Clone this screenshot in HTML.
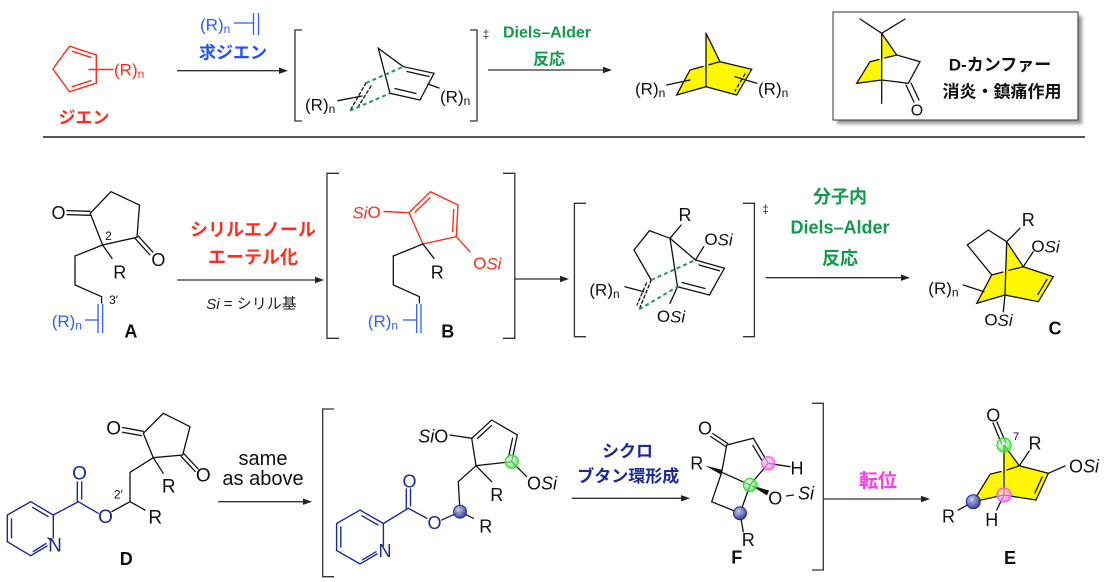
<!DOCTYPE html>
<html><head><meta charset="utf-8"><style>
html,body{margin:0;padding:0;background:#fff;}
svg{display:block;}
text{font-family:"Liberation Sans","Noto Sans CJK JP",sans-serif;}
</style></head><body>
<svg width="1108" height="582" viewBox="0 0 1108 582" xmlns="http://www.w3.org/2000/svg">
<defs>
<radialGradient id="gg" cx="40%" cy="35%" r="65%"><stop offset="0" stop-color="#d8ffd8" stop-opacity="0.6"/><stop offset="1" stop-color="#3ee03e" stop-opacity="0.75"/></radialGradient>
<radialGradient id="pg" cx="40%" cy="35%" r="65%"><stop offset="0" stop-color="#ffe0ff" stop-opacity="0.6"/><stop offset="1" stop-color="#ff66f5" stop-opacity="0.8"/></radialGradient>
<radialGradient id="bg" cx="40%" cy="35%" r="65%"><stop offset="0" stop-color="#c8cdf0" stop-opacity="0.9"/><stop offset="1" stop-color="#2a3596" stop-opacity="0.95"/></radialGradient>
<filter id="sh" x="-5%" y="-5%" width="110%" height="120%"><feGaussianBlur stdDeviation="1.5"/></filter>
</defs>

<!-- ================= TOP ROW ================= -->
<!-- red cyclopentadiene -->
<g stroke="#ff2d1a" stroke-width="1.4" fill="none" stroke-linecap="round">
<polygon points="69.5,46.2 96.3,54.9 96.3,83.1 69.5,91.8 52.9,69"/>
<line x1="72.3" y1="51.3" x2="91.1" y2="57.4"/>
<line x1="91.1" y1="80.6" x2="72.3" y2="86.7"/>
<line x1="89" y1="69.5" x2="113" y2="69.5"/>
</g>
<text x="114" y="70" dominant-baseline="central" font-size="17" fill="#ff2d1a">(R)<tspan font-size="12" dy="4">n</tspan></text>
<text x="84" y="118" text-anchor="middle" dominant-baseline="central" font-size="17" font-weight="bold" fill="#ff2d1a">ジエン</text>

<!-- dienophile label -->
<text x="200" y="25" dominant-baseline="central" font-size="17" fill="#2a5cff">(R)<tspan font-size="12" dy="4">n</tspan></text>
<g stroke="#2a5cff" stroke-width="1.3">
<line x1="234" y1="23" x2="253" y2="23"/>
<line x1="253.5" y1="13" x2="253.5" y2="35"/>
<line x1="258.5" y1="13" x2="258.5" y2="35"/>
</g>
<text x="233" y="53" text-anchor="middle" dominant-baseline="central" font-size="17" font-weight="bold" fill="#1f4fff">求ジエン</text>

<!-- arrow 1 -->
<line x1="177" y1="70.7" x2="280" y2="70.7" stroke="#333" stroke-width="1.3"/>
<polygon points="288,70.7 279,67.5 279,73.9" fill="#222"/>

<!-- TS1 brackets -->
<g stroke="#333" stroke-width="1.3" fill="none">
<polyline points="302,30 295,30 295,121 302,121"/>
<polyline points="470,30 477,30 477,121 470,121"/>
</g>
<text x="486" y="34" text-anchor="middle" dominant-baseline="central" font-size="12" fill="#333">‡</text>

<!-- TS1 structure -->
<g stroke="#111" stroke-width="1.3" fill="none" stroke-linecap="round">
<polygon points="378.3,48.3 403.3,66.7 434,73.3 420,100 390,93.3"/>
<line x1="407" y1="71.5" x2="429" y2="76.5"/>
<line x1="395" y1="88.5" x2="416" y2="93.5"/>
<line x1="428" y1="84" x2="439" y2="88"/>
<line x1="338" y1="100.7" x2="362" y2="96"/>
<line x1="366" y1="83" x2="350" y2="110.7" stroke-dasharray="3,2.5"/>
<line x1="371" y1="86" x2="358" y2="107" stroke-dasharray="3,2.5"/>
</g>
<g stroke="#1f9e4f" stroke-width="2" stroke-dasharray="4,3" fill="none">
<line x1="366" y1="83" x2="403.3" y2="66.7"/>
<line x1="350" y1="110.7" x2="390" y2="93.3"/>
</g>
<text x="440" y="97" dominant-baseline="central" font-size="17" fill="#111">(R)<tspan font-size="12" dy="4">n</tspan></text>
<text x="305" y="105" dominant-baseline="central" font-size="17" fill="#111">(R)<tspan font-size="12" dy="4">n</tspan></text>

<!-- Diels-Alder label and arrow -->
<text x="547" y="33" text-anchor="middle" dominant-baseline="central" font-size="16" font-weight="bold" fill="#12994a">Diels–Alder</text>
<text x="549" y="60" text-anchor="middle" dominant-baseline="central" font-size="16" font-weight="bold" fill="#12994a">反応</text>
<line x1="488" y1="70" x2="604" y2="70" stroke="#333" stroke-width="1.3"/>
<polygon points="612,70 603,66.8 603,73.2" fill="#222"/>

<!-- norbornene -->
<polygon points="706,33.3 720,61.7 751.7,69.3 736.7,95 706,86.7 676.7,95 690,70 706,66" fill="#fff700"/>
<g stroke="#111" stroke-width="1.3" fill="none" stroke-linecap="round">
<line x1="706" y1="33.3" x2="720" y2="61.7"/>
<line x1="706" y1="33.3" x2="706" y2="86.7"/>
<polyline points="720,61.7 751.7,69.3 736.7,95 706,86.7 676.7,95 690,70 703,66.4"/>
<line x1="709" y1="64.8" x2="720" y2="61.7"/>
<line x1="745" y1="74" x2="735" y2="91" stroke-dasharray="3,3"/>
<line x1="666.7" y1="85" x2="690" y2="80"/>
<line x1="735" y1="76.7" x2="756.7" y2="83.3"/>
</g>
<text x="635" y="89" dominant-baseline="central" font-size="17" fill="#111">(R)<tspan font-size="12" dy="4">n</tspan></text>
<text x="758" y="89" dominant-baseline="central" font-size="17" fill="#111">(R)<tspan font-size="12" dy="4">n</tspan></text>

<!-- camphor box -->
<rect x="837" y="16" width="245" height="108" fill="#999" filter="url(#sh)"/>
<rect x="833" y="12" width="245" height="108" fill="#fff" stroke="#333" stroke-width="1"/>
<polygon points="881.7,33.3 896.7,55 881.7,58.6 870,61.7 856.7,83.3 881.7,80" fill="#fff700"/>
<g stroke="#111" stroke-width="1.3" fill="none" stroke-linecap="round">
<line x1="860" y1="19" x2="881.7" y2="33.3"/>
<line x1="905" y1="19" x2="881.7" y2="33.3"/>
<line x1="881.7" y1="33.3" x2="881.7" y2="103.3"/>
<polyline points="881.7,33.3 896.7,55 920,61.7 908.3,83.3 881.7,80 856.7,83.3 870,61.7 879,59.5"/>
<line x1="884.5" y1="58" x2="896.7" y2="55"/>
<line x1="906" y1="85" x2="914" y2="102"/>
<line x1="911" y1="83" x2="919" y2="100"/>
</g>
<text x="917" y="111" text-anchor="middle" dominant-baseline="central" font-size="16" fill="#111">O</text>
<text x="1000" y="65" text-anchor="middle" dominant-baseline="central" font-size="17" font-weight="bold" fill="#111">D-カンファー</text>
<text x="1002" y="92" text-anchor="middle" dominant-baseline="central" font-size="17" font-weight="bold" fill="#111">消炎・鎮痛作用</text>

<!-- separator -->
<line x1="43" y1="137" x2="1085" y2="137" stroke="#555" stroke-width="2"/>

<!-- ================= ROW 2 ================= -->
<!-- compound A -->
<g stroke="#111" stroke-width="1.3" fill="none" stroke-linecap="round">
<polygon points="90.2,213.3 110.9,191.7 139.5,205 137,237.3 102.6,245"/>
<line x1="90" y1="211.3" x2="67" y2="210.6"/>
<line x1="90" y1="215.3" x2="67" y2="214.6"/>
<line x1="138.3" y1="236.1" x2="152.8" y2="252.1"/>
<line x1="135.4" y1="238.8" x2="149.9" y2="254.8"/>
<line x1="102.6" y1="245" x2="112" y2="258.3"/>
<polyline points="102.6,245 75,256 75,285 101.6,296.7 101.6,303"/>
</g>
<text x="58.5" y="213" text-anchor="middle" dominant-baseline="central" font-size="18" fill="#111">O</text>
<text x="158.4" y="260" text-anchor="middle" dominant-baseline="central" font-size="18" fill="#111">O</text>
<text x="119.8" y="272.7" text-anchor="middle" dominant-baseline="central" font-size="18" fill="#111">R</text>
<text x="108.5" y="236" text-anchor="middle" dominant-baseline="central" font-size="12" fill="#111">2</text>
<text x="113.6" y="300" text-anchor="middle" dominant-baseline="central" font-size="12" fill="#111">3′</text>
<g stroke="#2f5ff5" stroke-width="1.3">
<line x1="98" y1="304" x2="98" y2="333"/>
<line x1="102.6" y1="304" x2="102.6" y2="333"/>
<line x1="85" y1="320" x2="98" y2="320"/>
</g>
<text x="51.7" y="321.7" dominant-baseline="central" font-size="17" fill="#2f5ff5">(R)<tspan font-size="12" dy="4">n</tspan></text>
<text x="130.9" y="331.7" text-anchor="middle" dominant-baseline="central" font-size="18" font-weight="bold" fill="#111">A</text>

<!-- arrow A->B -->
<line x1="177.3" y1="280" x2="316" y2="280" stroke="#333" stroke-width="1.3"/>
<polygon points="324,280 315,276.8 315,283.2" fill="#222"/>
<text x="253" y="230" text-anchor="middle" dominant-baseline="central" font-size="18" font-weight="bold" fill="#ff2d1a">シリルエノール</text>
<text x="253" y="257.3" text-anchor="middle" dominant-baseline="central" font-size="18" font-weight="bold" fill="#ff2d1a">エーテル化</text>
<text x="251.5" y="304" text-anchor="middle" dominant-baseline="central" font-size="15" fill="#222"><tspan font-style="italic">Si</tspan> = シリル基</text>

<!-- bracket B -->
<g stroke="#333" stroke-width="1.3" fill="none">
<polyline points="339,173.3 327,173.3 327,338.3 339,338.3"/>
<polyline points="503,173.3 514.8,173.3 514.8,338.3 503,338.3"/>
</g>

<!-- compound B -->
<g stroke="#ff2d1a" stroke-width="1.4" fill="none" stroke-linecap="round">
<polygon points="409,212.7 430.4,191.7 458,205 456.3,236.7 422.9,244"/>
<line x1="415" y1="212.4" x2="430" y2="197.7"/>
<line x1="453.7" y1="209.6" x2="452.6" y2="231.7"/>
<line x1="384" y1="211.5" x2="409" y2="212.7"/>
<line x1="456.3" y1="236.7" x2="470" y2="251.7"/>
</g>
<text x="366.5" y="212.7" text-anchor="middle" dominant-baseline="central" font-size="17" fill="#ff2d1a"><tspan font-style="italic">Si</tspan>O</text>
<text x="487.3" y="263.3" text-anchor="middle" dominant-baseline="central" font-size="17" fill="#ff2d1a">O<tspan font-style="italic">Si</tspan></text>
<g stroke="#111" stroke-width="1.3" fill="none" stroke-linecap="round">
<line x1="422.9" y1="244" x2="433.9" y2="258.3"/>
<polyline points="422.9,244 393.3,256 393.3,285 419.4,296.7 419.4,303"/>
</g>
<text x="437.3" y="272.7" text-anchor="middle" dominant-baseline="central" font-size="18" fill="#111">R</text>
<g stroke="#2f5ff5" stroke-width="1.3">
<line x1="416.7" y1="304" x2="416.7" y2="333"/>
<line x1="421" y1="304" x2="421" y2="333"/>
<line x1="403" y1="320" x2="416.7" y2="320"/>
</g>
<text x="367.8" y="321.7" dominant-baseline="central" font-size="17" fill="#2f5ff5">(R)<tspan font-size="12" dy="4">n</tspan></text>
<text x="447.7" y="331.7" text-anchor="middle" dominant-baseline="central" font-size="18" font-weight="bold" fill="#111">B</text>

<!-- arrow B->TS2 -->
<line x1="515" y1="279" x2="561" y2="279" stroke="#333" stroke-width="1.3"/>
<polygon points="569,279 560,275.8 560,282.2" fill="#222"/>

<!-- TS2 brackets -->
<g stroke="#333" stroke-width="1.3" fill="none">
<polyline points="586,203.3 574.4,203.3 574.4,336.7 586,336.7"/>
<polyline points="743,203.3 754.4,203.3 754.4,336.7 743,336.7"/>
</g>
<text x="765.6" y="209" text-anchor="middle" dominant-baseline="central" font-size="12" fill="#333">‡</text>

<!-- TS2 structure -->
<g stroke="#111" stroke-width="1.3" fill="none" stroke-linecap="round">
<line x1="670" y1="238.3" x2="681.2" y2="225"/>
<polyline points="670,238.3 649.4,230.7 634,250 651.2,280"/>
<line x1="670" y1="238.3" x2="695.5" y2="260"/>
<line x1="695.5" y1="260" x2="703.7" y2="246.7"/>
<polyline points="695.5,260 724.4,268.3 709.4,295 677.5,286.7"/>
<line x1="699" y1="265" x2="719.5" y2="270.8"/>
<line x1="682" y1="282.5" x2="705" y2="288.5"/>
<line x1="670" y1="238.3" x2="677.5" y2="286.7"/>
<line x1="677.5" y1="286.7" x2="670" y2="303.3"/>
<line x1="625" y1="286.7" x2="643.7" y2="291.7"/>
<line x1="651.2" y1="280" x2="639.2" y2="309.3" stroke-dasharray="3,2.5"/>
<line x1="646.5" y1="283" x2="637" y2="305" stroke-dasharray="3,2.5"/>
</g>
<g stroke="#1f9e4f" stroke-width="2" stroke-dasharray="4,3" fill="none">
<line x1="651.2" y1="280" x2="695.5" y2="260"/>
<line x1="639.2" y1="309.3" x2="677.5" y2="286.7"/>
</g>
<text x="685" y="215" text-anchor="middle" dominant-baseline="central" font-size="18" fill="#111">R</text>
<text x="718.5" y="239.3" text-anchor="middle" dominant-baseline="central" font-size="17" fill="#111">O<tspan font-style="italic">Si</tspan></text>
<text x="671" y="316.7" text-anchor="middle" dominant-baseline="central" font-size="17" fill="#111">O<tspan font-style="italic">Si</tspan></text>
<text x="589.4" y="290" dominant-baseline="central" font-size="17" fill="#111">(R)<tspan font-size="12" dy="4">n</tspan></text>

<!-- intramolecular DA label -->
<text x="840" y="197" text-anchor="middle" dominant-baseline="central" font-size="18" font-weight="bold" fill="#12994a">分子内</text>
<text x="840" y="227.5" text-anchor="middle" dominant-baseline="central" font-size="18" font-weight="bold" fill="#12994a">Diels–Alder</text>
<text x="840" y="258.5" text-anchor="middle" dominant-baseline="central" font-size="18" font-weight="bold" fill="#12994a">反応</text>
<line x1="765.6" y1="277.7" x2="902" y2="277.7" stroke="#333" stroke-width="1.3"/>
<polygon points="910,277.7 901,274.5 901,280.9" fill="#222"/>

<!-- compound C -->
<polygon points="1006.7,241.7 1023.3,266.7 1053.3,276.7 1038.3,301.7 1005,295 976.7,303.3 991.7,275 1006.2,271.2" fill="#fff700"/>
<g stroke="#111" stroke-width="1.3" fill="none" stroke-linecap="round">
<line x1="1006.7" y1="241.7" x2="1020" y2="228.3"/>
<polyline points="1006.7,241.7 988.3,230 967.3,245 991.7,275 976.7,303.3 1005,295"/>
<line x1="991.7" y1="275" x2="1003" y2="272"/>
<line x1="1009" y1="270.3" x2="1023.3" y2="266.7"/>
<line x1="1006.7" y1="241.7" x2="1023.3" y2="266.7"/>
<line x1="1006.7" y1="241.7" x2="1005" y2="295"/>
<polyline points="1023.3,266.7 1053.3,276.7 1038.3,301.7 1005,295"/>
<line x1="1046.9" y1="279.6" x2="1037.9" y2="294.6"/>
<line x1="1023.3" y1="266.7" x2="1033.3" y2="251.7"/>
<line x1="1005" y1="295" x2="1003.3" y2="311.7"/>
<line x1="963.3" y1="285" x2="984" y2="291.7"/>
</g>
<text x="1028.3" y="220" text-anchor="middle" dominant-baseline="central" font-size="18" fill="#111">R</text>
<text x="1045.5" y="246.7" text-anchor="middle" dominant-baseline="central" font-size="17" fill="#111">O<tspan font-style="italic">Si</tspan></text>
<text x="998.5" y="320" text-anchor="middle" dominant-baseline="central" font-size="17" fill="#111">O<tspan font-style="italic">Si</tspan></text>
<text x="928.3" y="288.3" dominant-baseline="central" font-size="17" fill="#111">(R)<tspan font-size="12" dy="4">n</tspan></text>
<text x="1055" y="328.3" text-anchor="middle" dominant-baseline="central" font-size="18" font-weight="bold" fill="#111">C</text>

<!-- ================= ROW 3 ================= -->
<!-- compound D : pyridine ester -->
<g stroke="#1a2a96" stroke-width="1.4" fill="none" stroke-linecap="round">
<polyline points="48,538 53.3,541.7"/>
<polyline points="53.3,538 53.3,515 30.7,501.7 7.3,515 7.3,541.7 30.7,555.7 47,546"/>
<line x1="11.5" y1="519" x2="11.5" y2="538"/>
<line x1="32.7" y1="507.5" x2="48" y2="516.5"/>
<line x1="33.3" y1="551.5" x2="46" y2="543.5"/>
<line x1="53.3" y1="515" x2="78.3" y2="501.7"/>
<line x1="77.3" y1="501.7" x2="77.3" y2="482"/>
<line x1="81.7" y1="499" x2="81.7" y2="482"/>
<line x1="78.3" y1="501.7" x2="98.3" y2="513.3"/>
</g>
<text x="55" y="546" text-anchor="middle" dominant-baseline="central" font-size="19" fill="#1a2a96">N</text>
<text x="79.5" y="474" text-anchor="middle" dominant-baseline="central" font-size="19" fill="#1a2a96">O</text>
<text x="105.5" y="517.7" text-anchor="middle" dominant-baseline="central" font-size="19" fill="#1a2a96">O</text>
<g stroke="#111" stroke-width="1.3" fill="none" stroke-linecap="round">
<line x1="112" y1="511.5" x2="130" y2="501.7"/>
<line x1="130" y1="501.7" x2="145" y2="510"/>
<polyline points="130,501.7 130,472.3 153.3,457.7"/>
<polygon points="153.3,457.7 143.3,433.3 163.3,413.3 190,426.7 182.7,455"/>
<line x1="122.7" y1="427.5" x2="143.3" y2="431.3"/>
<line x1="122.7" y1="432.3" x2="141.5" y2="435.6"/>
<line x1="184" y1="453.8" x2="198" y2="468.8"/>
<line x1="181.2" y1="456.4" x2="195.2" y2="471.4"/>
<line x1="153.3" y1="457.7" x2="163.3" y2="473.3"/>
</g>
<text x="118.3" y="494.3" text-anchor="middle" dominant-baseline="central" font-size="12" fill="#111">2′</text>
<text x="155.3" y="518" text-anchor="middle" dominant-baseline="central" font-size="19" fill="#111">R</text>
<text x="113.7" y="429" text-anchor="middle" dominant-baseline="central" font-size="19" fill="#111">O</text>
<text x="203.3" y="476" text-anchor="middle" dominant-baseline="central" font-size="19" fill="#111">O</text>
<text x="168.7" y="487" text-anchor="middle" dominant-baseline="central" font-size="19" fill="#111">R</text>
<text x="126.3" y="559" text-anchor="middle" dominant-baseline="central" font-size="18" font-weight="bold" fill="#111">D</text>

<!-- same as above -->
<text x="263" y="465" text-anchor="middle" font-size="20" fill="#111">same</text>
<text x="263" y="485" text-anchor="middle" font-size="20" fill="#111">as above</text>
<line x1="218.3" y1="501.7" x2="304" y2="501.7" stroke="#333" stroke-width="1.3"/>
<polygon points="312,501.7 303,498.5 303,504.9" fill="#222"/>

<!-- big bracket row 3 -->
<g stroke="#333" stroke-width="1.3" fill="none">
<polyline points="334,409 322.7,409 322.7,576.7 334,576.7"/>
<polyline points="812,403.3 823.3,403.3 823.3,570 812,570"/>
</g>

<!-- intermediate silyl dienol ether -->
<g stroke="#111" stroke-width="1.3" fill="none" stroke-linecap="round">
<polygon points="471.7,438.3 491.7,420 517.3,435 511.7,461.7 476,465.7"/>
<line x1="477.4" y1="438.5" x2="491.4" y2="425.7"/>
<line x1="512.6" y1="438.2" x2="508.6" y2="456.9"/>
<line x1="450" y1="435" x2="471.7" y2="438.3"/>
<line x1="511.7" y1="461.7" x2="526.7" y2="476.7"/>
<line x1="476" y1="465.7" x2="491.7" y2="481.7"/>
<polyline points="476,465.7 458.3,481.7 460,511.7"/>
<line x1="460" y1="511.7" x2="473.3" y2="518.3"/>
</g>
<text x="433.3" y="436.7" text-anchor="middle" dominant-baseline="central" font-size="18" fill="#111"><tspan font-style="italic">Si</tspan>O</text>
<text x="542" y="483.3" text-anchor="middle" dominant-baseline="central" font-size="18" fill="#111">O<tspan font-style="italic">Si</tspan></text>
<text x="496.7" y="495" text-anchor="middle" dominant-baseline="central" font-size="18" fill="#111">R</text>
<text x="485.8" y="526.7" text-anchor="middle" dominant-baseline="central" font-size="18" fill="#111">R</text>
<g stroke="#1a2a96" stroke-width="1.4" fill="none" stroke-linecap="round">
<line x1="460" y1="511.7" x2="441.7" y2="520"/>
<line x1="426.7" y1="518.3" x2="408.3" y2="508.3"/>
<line x1="406.3" y1="508.3" x2="406.3" y2="489"/>
<line x1="410.5" y1="506" x2="410.5" y2="489"/>
<line x1="408.3" y1="508.3" x2="383.4" y2="523.5"/>
<polyline points="383.4,546 383.4,523.5 360,510 336.6,523.5 336.6,550.5 360,564 377,554"/>
<line x1="340.8" y1="527" x2="340.8" y2="547"/>
<line x1="362" y1="515.8" x2="378" y2="525"/>
<line x1="362.5" y1="559.8" x2="376" y2="551.8"/>
</g>
<text x="385" y="551" text-anchor="middle" dominant-baseline="central" font-size="18" fill="#1a2a96">N</text>
<text x="409.5" y="481.3" text-anchor="middle" dominant-baseline="central" font-size="18" fill="#1a2a96">O</text>
<text x="434.5" y="523" text-anchor="middle" dominant-baseline="central" font-size="18" fill="#1a2a96">O</text>
<circle cx="511.7" cy="461.7" r="6.5" fill="url(#gg)" stroke="#2ee52e" stroke-width="1.3"/>
<circle cx="460" cy="511.7" r="6.5" fill="url(#bg)" stroke="#1a2a96" stroke-width="1"/>

<!-- cyclobutane label -->
<text x="627.5" y="451.7" text-anchor="middle" dominant-baseline="central" font-size="17" font-weight="bold" fill="#1a2a96">シクロ</text>
<text x="628.3" y="476.7" text-anchor="middle" dominant-baseline="central" font-size="17" font-weight="bold" fill="#1a2a96">ブタン環形成</text>
<line x1="571.7" y1="498.3" x2="682" y2="498.3" stroke="#333" stroke-width="1.3"/>
<polygon points="690,498.3 681,495.1 681,501.5" fill="#222"/>

<!-- compound F -->
<g stroke="#111" stroke-width="1.3" fill="none" stroke-linecap="round">
<line x1="727.7" y1="443.5" x2="712.7" y2="433.5"/>
<line x1="725.7" y1="446.5" x2="710.7" y2="436.5"/>
<polyline points="721.7,472.3 726.7,445 753.3,438.3 768.3,463.3 750,485 721.7,472.3"/>
<line x1="752.9" y1="445.4" x2="761.9" y2="460.4"/>
<polyline points="721.7,472.3 711.7,501.7 740,513.3 750,485"/>
<line x1="768.3" y1="463.3" x2="790" y2="466.7"/>
<line x1="740" y1="513.3" x2="743.3" y2="531.7"/>
<line x1="786.5" y1="496" x2="793.5" y2="495"/>
</g>
<polygon points="705,465.5 722.5,470 720.9,474.5" fill="#111"/>
<polygon points="750,485 769,490.5 767,495.5" fill="#111"/>
<circle cx="768.3" cy="463.3" r="6.5" fill="url(#pg)" stroke="#ff55f0" stroke-width="1.3"/>
<circle cx="750" cy="485" r="6.5" fill="url(#gg)" stroke="#2ee52e" stroke-width="1.3"/>
<circle cx="740" cy="513.3" r="6.5" fill="url(#bg)" stroke="#1a2a96" stroke-width="1"/>
<text x="705" y="428.3" text-anchor="middle" dominant-baseline="central" font-size="18" fill="#111">O</text>
<text x="696.7" y="463.3" text-anchor="middle" dominant-baseline="central" font-size="18" fill="#111">R</text>
<text x="797" y="468.3" text-anchor="middle" dominant-baseline="central" font-size="18" fill="#111">H</text>
<text x="775.3" y="498.3" text-anchor="middle" dominant-baseline="central" font-size="18" fill="#111">O</text>
<text x="806" y="493.3" text-anchor="middle" dominant-baseline="central" font-size="18" font-style="italic" fill="#111">Si</text>
<text x="748.3" y="540" text-anchor="middle" dominant-baseline="central" font-size="18" fill="#111">R</text>
<text x="736.7" y="557.5" text-anchor="middle" dominant-baseline="central" font-size="18" font-weight="bold" fill="#111">F</text>

<!-- rearrangement -->
<text x="878" y="481.7" text-anchor="middle" dominant-baseline="central" font-size="19" font-weight="bold" fill="#ff3cf0">転位</text>
<line x1="823.3" y1="499" x2="922" y2="499" stroke="#333" stroke-width="1.3"/>
<polygon points="930,499 921,495.8 921,502.2" fill="#222"/>

<!-- compound E -->
<polygon points="1004,445 1019.3,465.7 1048.3,473.3 1036,500 1004,495 973.3,501.7 990,474.3 1004,471" fill="#fff700"/>
<g stroke="#111" stroke-width="1.3" fill="none" stroke-linecap="round">
<line x1="1001.7" y1="444" x2="993" y2="423"/>
<line x1="1005.7" y1="442.5" x2="997" y2="422"/>
<line x1="1004" y1="445" x2="1019.3" y2="465.7"/>
<line x1="1004" y1="445" x2="1004" y2="495"/>
<line x1="1019.3" y1="465.7" x2="1029.3" y2="451"/>
<polyline points="1019.3,465.7 1048.3,473.3 1036,500 1004,495 973.3,501.7 990,474.3 1001,471.5"/>
<line x1="1007" y1="470" x2="1019.3" y2="465.7"/>
<line x1="1048.3" y1="473.3" x2="1065" y2="466"/>
<line x1="1042.2" y1="476.9" x2="1034.9" y2="493"/>
<line x1="973.3" y1="501.7" x2="958.3" y2="510"/>
<line x1="1004" y1="495" x2="996.7" y2="510"/>
</g>
<circle cx="1004" cy="445" r="7" fill="url(#gg)" stroke="#2ee52e" stroke-width="1.3"/>
<circle cx="1004" cy="495" r="7" fill="url(#pg)" stroke="#ff55f0" stroke-width="1.3"/>
<circle cx="973.3" cy="501.7" r="7" fill="url(#bg)" stroke="#1a2a96" stroke-width="1"/>
<text x="993.3" y="415.5" text-anchor="middle" dominant-baseline="central" font-size="18" fill="#111">O</text>
<text x="1016" y="437" text-anchor="middle" dominant-baseline="central" font-size="11" fill="#111">7</text>
<text x="1035" y="443.3" text-anchor="middle" dominant-baseline="central" font-size="18" fill="#111">R</text>
<text x="1084" y="466.7" text-anchor="middle" dominant-baseline="central" font-size="18" fill="#111">O<tspan font-style="italic">Si</tspan></text>
<text x="948.5" y="516.7" text-anchor="middle" dominant-baseline="central" font-size="18" fill="#111">R</text>
<text x="991.7" y="520" text-anchor="middle" dominant-baseline="central" font-size="18" fill="#111">H</text>
<text x="1010" y="558" text-anchor="middle" dominant-baseline="central" font-size="18" font-weight="bold" fill="#111">E</text>
</svg>
</body></html>
